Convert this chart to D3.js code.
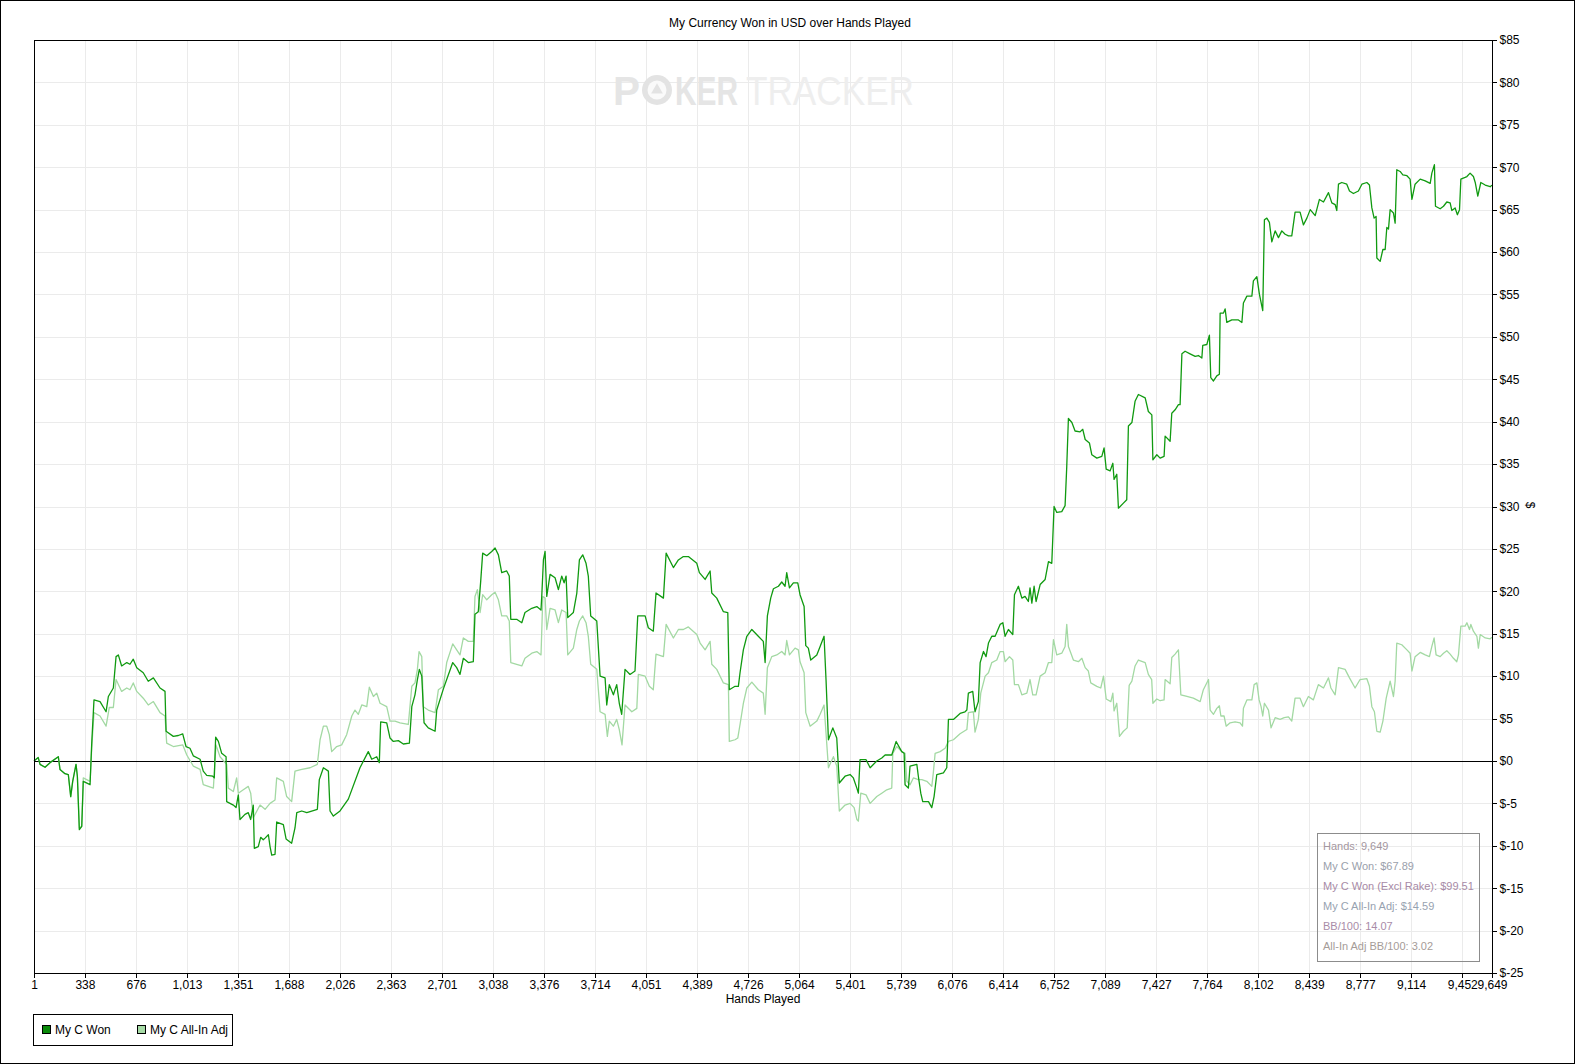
<!DOCTYPE html>
<html>
<head>
<meta charset="utf-8">
<script src="https://cdn.jsdelivr.net/npm/d3@7/dist/d3.min.js"></script>
<style>
  body { margin: 0; background: #fff; }
  svg text { font-family: "Liberation Sans", Arial, sans-serif; }
</style>
</head>
<body>
<div id="chart"></div>
<script>
// hands played and cumulative dollars
var wonSeries = [[1,0],[29,0.4],[41,-0.4],[74,-0.75],[107,-0.2],[162,0.5],[173,-1.0],[206,-1.5],[228,-1.6],[244,-4.2],[257,-2.4],[279,-0.4],[288,-1.8],[301,-8.1],[317,-7.7],[327,-2.4],[372,-2.8],[383,2.1],[398,7.2],[438,7.0],[478,5.8],[493,7.6],[526,8.6],[544,12.3],[559,12.5],[581,11.2],[615,11.6],[636,11.4],[658,12.0],[681,11.0],[724,10.4],[757,9.4],[791,9.8],[835,8.6],[868,8.2],[875,3.5],[923,2.9],[956,3.0],[985,3.2],[1007,1.7],[1033,1.5],[1055,0.6],[1100,0.2],[1121,-1.2],[1144,-1.7],[1184,-1.8],[1194,-2.0],[1203,2.8],[1221,2.3],[1243,0.9],[1272,0.5],[1276,-4.8],[1320,-5.2],[1338,-5.5],[1353,-4.0],[1364,-6.9],[1397,-6.3],[1419,-6.1],[1435,-6.9],[1452,-5.2],[1459,-10.3],[1485,-10.1],[1501,-9.0],[1518,-9.3],[1530,-9.1],[1552,-8.7],[1563,-10.1],[1574,-11.1],[1596,-11.0],[1607,-7.2],[1651,-7.5],[1669,-9.2],[1706,-9.7],[1728,-7.9],[1740,-6.1],[1773,-5.9],[1806,-6.1],[1876,-5.7],[1889,-2.2],[1916,-0.8],[1949,-1.2],[1960,-5.9],[1982,-6.5],[2026,-5.9],[2081,-4.5],[2158,-0.8],[2213,1.1],[2236,0.2],[2269,0.5],[2286,-0.2],[2295,4.6],[2335,4.5],[2357,2.7],[2379,2.3],[2412,2.4],[2445,2.0],[2485,2.1],[2501,6.4],[2522,7.8],[2538,9.6],[2551,10.8],[2567,10.0],[2582,4.5],[2610,3.9],[2655,3.5],[2666,6.0],[2710,8.5],[2736,9.8],[2772,11.6],[2798,11.0],[2820,10.2],[2842,12.1],[2875,11.6],[2908,11.7],[2919,17.3],[2941,17.6],[2957,21.2],[2970,24.5],[2997,24.2],[3030,24.7],[3052,25.1],[3074,24.3],[3096,22.2],[3129,22.4],[3146,21.8],[3156,16.7],[3195,16.7],[3229,16.3],[3250,17.5],[3295,18.0],[3328,18.2],[3356,17.8],[3361,19.4],[3372,23.7],[3383,24.7],[3394,19.4],[3416,22.0],[3449,21.6],[3471,20.2],[3493,21.8],[3509,21.0],[3522,21.8],[3533,16.9],[3570,17.5],[3593,19.8],[3610,23.7],[3632,24.3],[3654,23.3],[3669,21.8],[3685,17.1],[3725,16.5],[3747,10.0],[3780,9.8],[3791,6.6],[3808,9.0],[3835,7.8],[3857,9.0],[3874,6.8],[3890,5.5],[3912,10.8],[3945,10.2],[3978,10.6],[3996,17.1],[4045,17.1],[4066,15.7],[4099,15.3],[4117,19.8],[4166,19.2],[4184,24.5],[4232,22.8],[4265,23.7],[4298,24.1],[4331,24.1],[4387,23.3],[4404,22.2],[4442,21.4],[4475,22.4],[4486,19.8],[4519,19.2],[4563,17.6],[4592,17.5],[4602,8.4],[4640,8.8],[4662,8.8],[4673,10.4],[4695,13.1],[4718,14.7],[4751,15.5],[4794,14.7],[4827,14.1],[4839,11.6],[4854,17.1],[4876,19.2],[4894,20.3],[4927,20.6],[4949,21.1],[4971,20.6],[4982,22.2],[5000,20.4],[5026,21.0],[5055,21.0],[5070,19.6],[5097,18.2],[5108,13.6],[5125,13.3],[5141,11.9],[5181,12.5],[5203,13.5],[5229,14.7],[5242,9.6],[5258,2.5],[5287,3.9],[5313,2.7],[5330,-2.6],[5368,-1.8],[5401,-1.6],[5423,-2.0],[5446,-3.2],[5456,-3.8],[5467,0.15],[5507,0.15],[5534,-0.8],[5578,0],[5611,0.35],[5633,0.7],[5677,0.7],[5706,2.3],[5743,1.1],[5759,0.9],[5765,-2.8],[5787,-3.2],[5798,-0.6],[5843,-0.4],[5853,-1.8],[5869,-3.8],[5882,-4.8],[5920,-4.8],[5942,-5.5],[5957,-4.2],[5975,-1.6],[6019,-1.4],[6041,-0.8],[6052,4.9],[6085,4.9],[6129,5.6],[6162,5.8],[6174,6.0],[6184,8.0],[6213,8.2],[6228,5.8],[6250,7.0],[6262,11.6],[6284,12.9],[6301,12.3],[6317,13.9],[6339,14.7],[6361,14.7],[6394,16.1],[6412,16.3],[6427,14.7],[6449,15.5],[6478,14.9],[6489,19.6],[6515,20.6],[6538,19.2],[6559,19.4],[6581,18.8],[6592,20.4],[6604,18.6],[6619,20.6],[6632,18.8],[6659,20.8],[6692,21.4],[6714,23.5],[6736,23.3],[6751,30.0],[6769,29.3],[6802,29.4],[6824,30.1],[6835,34.7],[6846,40.4],[6869,39.9],[6890,38.9],[6923,38.8],[6941,39.1],[6957,37.9],[6985,37.5],[7001,36.1],[7034,35.7],[7067,35.9],[7082,36.9],[7096,34.4],[7122,34.2],[7140,35.1],[7148,33.2],[7166,33.8],[7177,29.8],[7210,30.4],[7232,30.8],[7243,39.5],[7266,39.9],[7287,42.4],[7309,43.2],[7354,42.8],[7375,41.2],[7398,40.8],[7405,35.5],[7431,36.1],[7453,35.7],[7479,35.9],[7486,38.3],[7519,37.7],[7530,41.0],[7552,41.4],[7574,42.0],[7585,42.0],[7597,48.0],[7618,48.3],[7651,48.0],[7685,47.7],[7706,47.8],[7729,47.5],[7735,49.0],[7762,49.1],[7779,50.2],[7788,45.2],[7806,44.8],[7828,45.4],[7845,45.6],[7850,52.8],[7872,52.8],[7883,53.3],[7894,51.7],[7927,52.0],[7971,52.0],[7994,51.7],[8004,54.0],[8027,54.8],[8060,54.8],[8070,56.6],[8093,57.1],[8110,55.0],[8132,53.1],[8143,63.8],[8159,64.0],[8176,63.5],[8192,61.2],[8214,62.5],[8236,61.7],[8258,62.5],[8280,62.1],[8302,61.9],[8324,61.9],[8346,64.7],[8379,64.7],[8401,63.2],[8424,64.0],[8446,65.0],[8479,64.3],[8507,66.2],[8534,65.9],[8567,67.0],[8589,65.8],[8611,65.6],[8622,64.9],[8633,68.0],[8655,68.2],[8688,68.0],[8706,67.2],[8732,66.9],[8765,67.2],[8788,68.0],[8821,68.2],[8838,67.9],[8854,65.2],[8869,64.0],[8882,64.2],[8887,59.3],[8909,58.9],[8927,60.3],[8942,60.3],[8953,62.9],[8964,62.7],[8975,65.0],[8997,64.6],[9008,63.4],[9019,69.7],[9041,69.5],[9059,69.1],[9086,69.0],[9107,68.6],[9119,66.2],[9140,68.0],[9174,68.6],[9207,68.4],[9240,68.1],[9251,69.3],[9268,70.3],[9275,65.4],[9306,65.1],[9328,65.4],[9350,65.9],[9372,65.8],[9383,64.9],[9405,65.2],[9420,64.4],[9434,65.0],[9443,68.6],[9471,68.8],[9483,68.9],[9504,69.3],[9526,68.9],[9538,68.2],[9555,66.6],[9575,68.2],[9604,67.9],[9637,67.7],[9649,67.89]];

var allInSeries = [[1,0],[29,0.4],[41,-0.4],[74,-0.75],[107,-0.2],[162,0.5],[173,-1.0],[206,-1.5],[228,-1.6],[244,-4.2],[257,-2.4],[279,-0.4],[288,-1.8],[301,-7.9],[317,-7.7],[327,-2.0],[372,-2.4],[383,1.5],[398,5.7],[438,5.3],[478,4.1],[499,6.3],[526,6.3],[544,9.6],[581,8.2],[615,8.6],[636,8.4],[658,9.2],[681,8.2],[724,7.4],[757,6.6],[791,7.0],[835,5.7],[868,5.3],[879,2.1],[923,1.7],[985,1.9],[1012,0.7],[1055,-0.6],[1100,-1.0],[1121,-2.8],[1188,-3.2],[1205,1.9],[1232,0.5],[1276,-0.4],[1287,-3.2],[1320,-3.6],[1342,-2.0],[1353,-3.8],[1386,-3.4],[1419,-3.0],[1435,-3.8],[1452,-6.7],[1497,-5.2],[1530,-5.7],[1563,-5.0],[1596,-4.6],[1607,-2.0],[1651,-2.4],[1673,-4.2],[1706,-4.8],[1728,-1.2],[1773,-1.0],[1828,-0.8],[1876,-0.4],[1894,2.5],[1916,4.1],[1938,4.1],[1955,3.1],[1971,1.1],[2004,1.7],[2037,1.9],[2070,3.1],[2104,5.3],[2125,6.0],[2147,5.5],[2170,6.6],[2203,6.4],[2220,8.7],[2247,7.6],[2269,8.0],[2291,6.8],[2335,6.4],[2357,4.7],[2390,4.7],[2423,4.5],[2478,4.3],[2501,8.8],[2522,9.2],[2538,10.8],[2549,12.9],[2567,12.3],[2577,6.4],[2610,6.0],[2655,5.7],[2677,8.4],[2710,8.8],[2732,11.6],[2772,13.8],[2798,13.1],[2820,12.5],[2842,14.5],[2875,14.1],[2908,14.1],[2919,19.4],[2935,20.2],[2953,17.5],[2970,19.6],[2997,19.0],[3030,19.6],[3052,19.9],[3074,19.0],[3096,17.1],[3129,17.1],[3146,16.5],[3156,11.6],[3195,11.4],[3229,11.2],[3250,12.1],[3295,12.7],[3328,12.9],[3356,12.5],[3368,19.4],[3383,19.2],[3394,15.5],[3416,18.0],[3449,17.8],[3471,16.3],[3493,17.8],[3522,17.5],[3533,12.5],[3570,13.3],[3593,15.5],[3610,16.5],[3632,17.1],[3654,16.3],[3669,14.7],[3685,11.4],[3725,10.8],[3747,5.8],[3780,5.5],[3795,2.9],[3808,4.7],[3835,4.1],[3857,4.9],[3874,3.7],[3892,1.9],[3912,6.6],[3957,5.8],[3990,6.2],[4000,10.2],[4045,10.0],[4073,8.8],[4099,8.4],[4117,12.6],[4166,12.3],[4184,16.1],[4232,14.5],[4265,15.5],[4298,15.5],[4331,15.8],[4387,14.9],[4409,13.9],[4442,13.1],[4475,14.1],[4486,11.4],[4519,10.8],[4563,9.2],[4596,9.0],[4602,2.3],[4640,2.5],[4658,2.7],[4673,4.3],[4695,6.8],[4718,8.6],[4751,9.3],[4794,8.4],[4827,8.0],[4839,5.5],[4854,11.0],[4883,12.3],[4916,12.5],[4949,12.9],[4971,12.5],[4982,14.2],[5000,12.5],[5037,13.3],[5059,13.1],[5070,11.7],[5097,10.4],[5108,5.7],[5137,4.1],[5181,4.7],[5203,5.5],[5229,6.6],[5242,3.3],[5258,-0.8],[5291,0.5],[5313,-0.6],[5330,-5.9],[5368,-5.2],[5401,-5.0],[5428,-5.5],[5446,-6.9],[5456,-7.1],[5472,-3.8],[5507,-4.0],[5534,-5.0],[5578,-4.2],[5611,-3.8],[5644,-3.4],[5677,-3.2],[5684,0.9],[5710,1.7],[5743,1.1],[5765,0.9],[5777,-2.4],[5798,-2.8],[5820,-2.0],[5853,-2.2],[5876,-2.2],[5909,-2.4],[5942,-3.0],[5952,-1.4],[5964,0.9],[5997,1.1],[6030,1.5],[6052,2.3],[6085,2.5],[6129,3.2],[6174,3.7],[6184,5.7],[6217,5.8],[6228,3.4],[6250,4.9],[6266,8.0],[6295,10.0],[6317,10.4],[6339,11.6],[6372,11.9],[6394,12.9],[6416,12.9],[6427,11.7],[6456,12.3],[6478,11.9],[6489,9.0],[6515,9.0],[6538,7.8],[6571,8.0],[6592,9.6],[6610,7.8],[6632,7.8],[6659,10.0],[6692,10.4],[6714,11.6],[6736,11.6],[6747,14.3],[6769,12.5],[6802,12.7],[6824,13.5],[6835,16.1],[6846,13.5],[6879,11.9],[6912,11.7],[6935,12.1],[6957,11.0],[6978,10.6],[6994,9.2],[7034,8.8],[7060,8.6],[7078,10.0],[7096,7.3],[7127,7.0],[7140,8.0],[7148,5.9],[7166,6.8],[7184,2.9],[7210,3.5],[7235,3.9],[7248,8.9],[7266,9.4],[7287,11.2],[7309,11.9],[7354,11.6],[7375,10.2],[7397,9.6],[7405,6.8],[7431,7.3],[7453,7.1],[7479,7.2],[7486,9.6],[7519,9.1],[7530,12.2],[7552,12.6],[7574,13.1],[7590,7.8],[7630,7.6],[7673,7.4],[7718,7.0],[7739,8.4],[7773,9.6],[7784,6.0],[7806,5.5],[7828,6.2],[7845,6.5],[7855,5.3],[7876,5.3],[7890,4.1],[7916,4.5],[7949,4.6],[7982,4.5],[7998,4.1],[8004,6.2],[8027,7.2],[8060,7.2],[8075,9.0],[8093,9.2],[8108,7.2],[8121,6.4],[8132,5.3],[8143,6.8],[8170,6.0],[8187,3.9],[8214,5.1],[8247,4.9],[8274,5.1],[8302,5.2],[8324,4.7],[8346,7.4],[8379,7.4],[8401,6.4],[8434,7.6],[8467,7.2],[8500,9.0],[8534,8.6],[8567,9.8],[8583,8.6],[8611,7.8],[8633,11.0],[8677,10.8],[8706,9.8],[8743,8.6],[8776,9.6],[8821,9.7],[8838,8.8],[8854,6.4],[8871,5.8],[8887,3.5],[8909,3.4],[8927,4.7],[8949,7.4],[8975,9.4],[8997,7.6],[9008,9.4],[9019,13.9],[9052,13.7],[9086,13.1],[9107,12.7],[9119,10.6],[9140,12.3],[9174,12.8],[9207,12.5],[9235,12.3],[9251,13.5],[9266,14.5],[9279,12.5],[9306,12.3],[9328,12.7],[9350,13.0],[9372,12.6],[9394,12.1],[9416,11.7],[9427,12.5],[9443,15.9],[9471,15.9],[9483,16.3],[9500,15.5],[9509,16.1],[9526,15.3],[9549,14.7],[9559,13.3],[9571,14.9],[9604,14.5],[9637,14.4],[9649,14.59]];

var handTicks = [1,338,676,1013,1351,1688,2026,2363,2701,3038,3376,3714,4051,4389,4726,5064,5401,5739,6076,6414,6752,7089,7427,7764,8102,8439,8777,9114,9452,9649];
var dollarTicks = [-25,-20,-15,-10,-5,0,5,10,15,20,25,30,35,40,45,50,55,60,65,70,75,80,85];

var seriesNames = ['My C Won', 'My C All-In Adj'];
var seriesColors = ['#109a10', '#a3d9a3'];
var swatchColors = ['#0a8a0a', '#a6dba6'];

var statLines = [
    'Hands: 9,649',
    'My C Won: $67.89',
    'My C Won (Excl Rake): $99.51',
    'My C All-In Adj: $14.59',
    'BB/100: 14.07',
    'All-In Adj BB/100: 3.02'
];
var statColors = ['#a4979f', '#9aa0ab', '#a78aa6', '#97a2b0', '#a98ca8', '#a59c98'];

var W = 1575, H = 1064;
var plot = {left: 34, right: 1492, top: 40, bottom: 973};

var svg = d3.select('#chart').append('svg')
    .attr('width', W)
    .attr('height', H);

svg.append('rect')
    .attr('x', 0.5).attr('y', 0.5)
    .attr('width', W - 1.5).attr('height', H - 1.5)
    .attr('fill', '#fff')
    .attr('stroke', '#000')
    .attr('shape-rendering', 'crispEdges');

var x = d3.scaleLinear().domain([1, 9649]).range([plot.left, plot.right]);
var y = d3.scaleLinear().domain([-25, 85]).range([plot.bottom, plot.top]);

// grid
var grid = svg.append('g').attr('shape-rendering', 'crispEdges');
grid.selectAll('.vgrid')
    .data(handTicks)
    .enter().append('line')
    .attr('x1', function(d) { return Math.round(x(d)) + 0.5; })
    .attr('x2', function(d) { return Math.round(x(d)) + 0.5; })
    .attr('y1', plot.top).attr('y2', plot.bottom)
    .style('stroke', '#ebebeb');
grid.selectAll('.hgrid')
    .data(dollarTicks)
    .enter().append('line')
    .attr('x1', plot.left).attr('x2', plot.right)
    .attr('y1', function(d) { return Math.round(y(d)) + 0.5; })
    .attr('y2', function(d) { return Math.round(y(d)) + 0.5; })
    .style('stroke', '#ebebeb');

// watermark (small font stretched tall, so the boxes stay apart)
var wm = svg.append('g');
wm.append('circle').attr('cx', 657).attr('cy', 90).attr('r', 15).style('fill', '#e3e3e3');
wm.append('circle').attr('cx', 657).attr('cy', 90).attr('r', 9.5).style('fill', '#fafafa');
wm.append('path')
    .attr('transform', 'translate(657,90)')
    .attr('d', d3.symbol().type(d3.symbolTriangle).size(60)())
    .style('fill', '#e3e3e3');
var wmText = wm.append('g')
    .attr('transform', 'translate(0,105) scale(1,1.4)')
    .style('font-family', 'DejaVu Sans Condensed, DejaVu Sans')
    .style('font-size', '29px');
wmText.append('text')
    .attr('x', 613)
    .attr('textLength', 27).attr('lengthAdjust', 'spacingAndGlyphs')
    .style('font-weight', 'bold')
    .style('fill', '#e5e5e5')
    .text('P');
wmText.append('text')
    .attr('x', 675)
    .attr('textLength', 63).attr('lengthAdjust', 'spacingAndGlyphs')
    .style('font-weight', 'bold')
    .style('fill', '#e5e5e5')
    .text('KER');
wmText.append('text')
    .attr('x', 746)
    .attr('textLength', 168).attr('lengthAdjust', 'spacingAndGlyphs')
    .style('fill', '#eeeeee')
    .text('TRACKER');

// zero line
svg.append('line')
    .attr('x1', plot.left).attr('x2', plot.right)
    .attr('y1', Math.round(y(0)) + 0.5).attr('y2', Math.round(y(0)) + 0.5)
    .attr('shape-rendering', 'crispEdges')
    .style('stroke', '#000');

// series
var line = d3.line()
    .x(function(d) { return x(d[0]); })
    .y(function(d) { return y(d[1]); });

[allInSeries, wonSeries].forEach(function(s, i) {
    svg.append('path')
        .datum(s)
        .attr('d', line)
        .style('fill', 'none')
        .style('stroke', i === 0 ? seriesColors[1] : seriesColors[0])
        .style('stroke-width', 1.3)
        .style('stroke-linejoin', 'round');
});

// frame
svg.append('rect')
    .attr('x', plot.left + 0.5).attr('y', plot.top + 0.5)
    .attr('width', plot.right - plot.left).attr('height', plot.bottom - plot.top)
    .attr('shape-rendering', 'crispEdges')
    .style('fill', 'none').style('stroke', '#000');

// axes
var xAxis = d3.axisBottom(x)
    .tickValues(handTicks)
    .tickFormat(d3.format(','))
    .tickSizeOuter(0)
    .tickSize(4);
var gx = svg.append('g')
    .attr('transform', 'translate(0,' + (plot.bottom + 0.5) + ')')
    .call(xAxis);
gx.select('.domain').remove();
gx.selectAll('text').style('font-size', '12px').style('fill', '#000').attr('dy', '0.8em').attr('y', 6);
gx.selectAll('line').style('stroke', '#000').attr('shape-rendering', 'crispEdges');

var yAxis = d3.axisRight(y)
    .tickValues(dollarTicks)
    .tickFormat(function(d) { return '$' + d; })
    .tickSizeOuter(0)
    .tickSize(4);
var gy = svg.append('g')
    .attr('transform', 'translate(' + (plot.right + 0.5) + ',0)')
    .call(yAxis);
gy.select('.domain').remove();
gy.selectAll('text').style('font-size', '12px').style('fill', '#000').attr('x', 7);
gy.selectAll('line').style('stroke', '#000').attr('shape-rendering', 'crispEdges');

// titles
svg.append('text')
    .attr('x', 790).attr('y', 27)
    .attr('text-anchor', 'middle')
    .style('font-size', '12px')
    .text('My Currency Won in USD over Hands Played');
svg.append('text')
    .attr('x', (plot.left + plot.right) / 2).attr('y', 1003)
    .attr('text-anchor', 'middle')
    .style('font-size', '12px')
    .text('Hands Played');
svg.append('text')
    .attr('transform', 'translate(1526,505) rotate(90)')
    .attr('text-anchor', 'middle')
    .style('font-size', '12px')
    .text('$');

// stats box
var stats = svg.append('g');
stats.append('rect')
    .attr('x', 1317.5).attr('y', 833.5)
    .attr('width', 162).attr('height', 128)
    .attr('shape-rendering', 'crispEdges')
    .style('fill', 'none').style('stroke', '#8c8c8c');
stats.selectAll('text')
    .data(statLines)
    .enter().append('text')
    .attr('x', 1323)
    .attr('y', function(d, i) { return 850 + i * 20; })
    .style('font-size', '11px')
    .style('fill', function(d, i) { return statColors[i]; })
    .text(function(d) { return d; });

// legend
var legend = svg.append('g');
legend.append('rect')
    .attr('x', 33.5).attr('y', 1014.5)
    .attr('width', 199).attr('height', 31)
    .attr('shape-rendering', 'crispEdges')
    .style('fill', '#fff').style('stroke', '#000');
var legendX = [42, 137];
seriesNames.forEach(function(name, i) {
    legend.append('rect')
        .attr('x', legendX[i] + 0.5).attr('y', 1025.5)
        .attr('width', 8).attr('height', 8)
        .attr('shape-rendering', 'crispEdges')
        .style('fill', swatchColors[i]).style('stroke', '#000');
    legend.append('text')
        .attr('x', legendX[i] + 13).attr('y', 1034)
        .style('font-size', '12px')
        .text(name);
});
</script>
</body>
</html>
